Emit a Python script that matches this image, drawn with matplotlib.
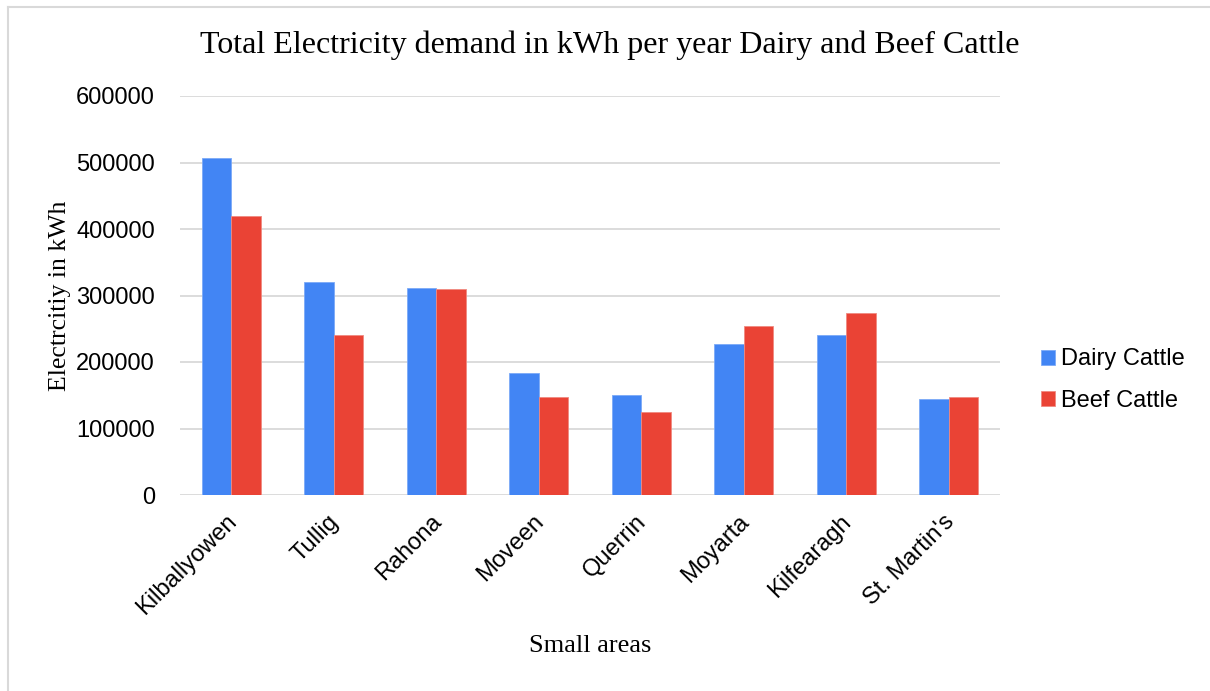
import matplotlib
matplotlib.use("Agg")
import matplotlib.pyplot as plt
import matplotlib.transforms as mtransforms
import numpy as np
from matplotlib.lines import Line2D

areas = ["Kilballyowen", "Tullig", "Rahona", "Moveen", "Querrin", "Moyarta", "Kilfearagh", "St. Martin's"]
dairy = [506500, 320000, 311500, 183000, 150500, 226500, 241000, 144000]
beef = [419000, 241000, 309500, 147500, 124500, 253500, 274000, 147500]
yticks = [0, 100000, 200000, 300000, 400000, 500000, 600000]

serif = ["Liberation Serif", "DejaVu Serif"]
sans = ["Liberation Sans", "DejaVu Sans"]

fig = plt.figure(figsize=(12.1, 6.91), dpi=100)
ax = fig.add_axes([180/1210, 1-495/691, 820/1210, 399/691])

x = np.arange(len(areas))
w = 0.2875
ax.bar(x - w/2, dairy, w, color="#4285F4", edgecolor="#7BAAF7", linewidth=0.6, label="Dairy Cattle", zorder=3)
ax.bar(x + w/2, beef, w, color="#EA4335", edgecolor="#F08A80", linewidth=0.6, label="Beef Cattle", zorder=3)

ax.set_xlim(-0.5, len(areas) - 0.5)
ax.set_ylim(0, 600000)
ax.set_yticks(yticks)
ax.set_yticklabels([str(v) for v in yticks], fontfamily=sans, fontsize=17)
ax.set_xticks(x)
ax.set_xticklabels(areas, rotation=45, ha="right", rotation_mode="anchor", fontfamily=sans, fontsize=17)
ax.tick_params(axis="both", length=0)
ax.tick_params(axis="y", pad=18)
ax.tick_params(axis="x", pad=12)
shift = mtransforms.ScaledTranslation(-6/100, 1/100, fig.dpi_scale_trans)
for lbl in ax.get_xticklabels():
    lbl.set_transform(lbl.get_transform() + shift)
ax.grid(axis="y", color="#d9d9d9", linewidth=1.3, zorder=0)
for s in ax.spines.values():
    s.set_visible(False)

ax.set_xlabel("Small areas", fontfamily=serif, fontsize=19, labelpad=11)
ax.set_ylabel("Electrcitiy in kWh", fontfamily=serif, fontsize=18.5, labelpad=4)

fig.text(610/1210, 1-45/691, "Total Electricity demand in kWh per year Dairy and Beef Cattle",
         ha="center", va="center", fontfamily=serif, fontsize=23)

leg = ax.legend(loc="center left", bbox_to_anchor=(1.024, 0.288), frameon=False,
                prop={"family": sans, "size": 17}, handlelength=0.6, handleheight=0.6,
                handletextpad=0.25, labelspacing=0.82)

# figure border (left and top)
fig.add_artist(Line2D([8/1210, 8/1210], [0, 1-7/691], transform=fig.transFigure, color="#d9d9d9", linewidth=1.5))
fig.add_artist(Line2D([8/1210, 1], [1-7/691, 1-7/691], transform=fig.transFigure, color="#d9d9d9", linewidth=1.5))

fig.savefig("out.png", dpi=100)
